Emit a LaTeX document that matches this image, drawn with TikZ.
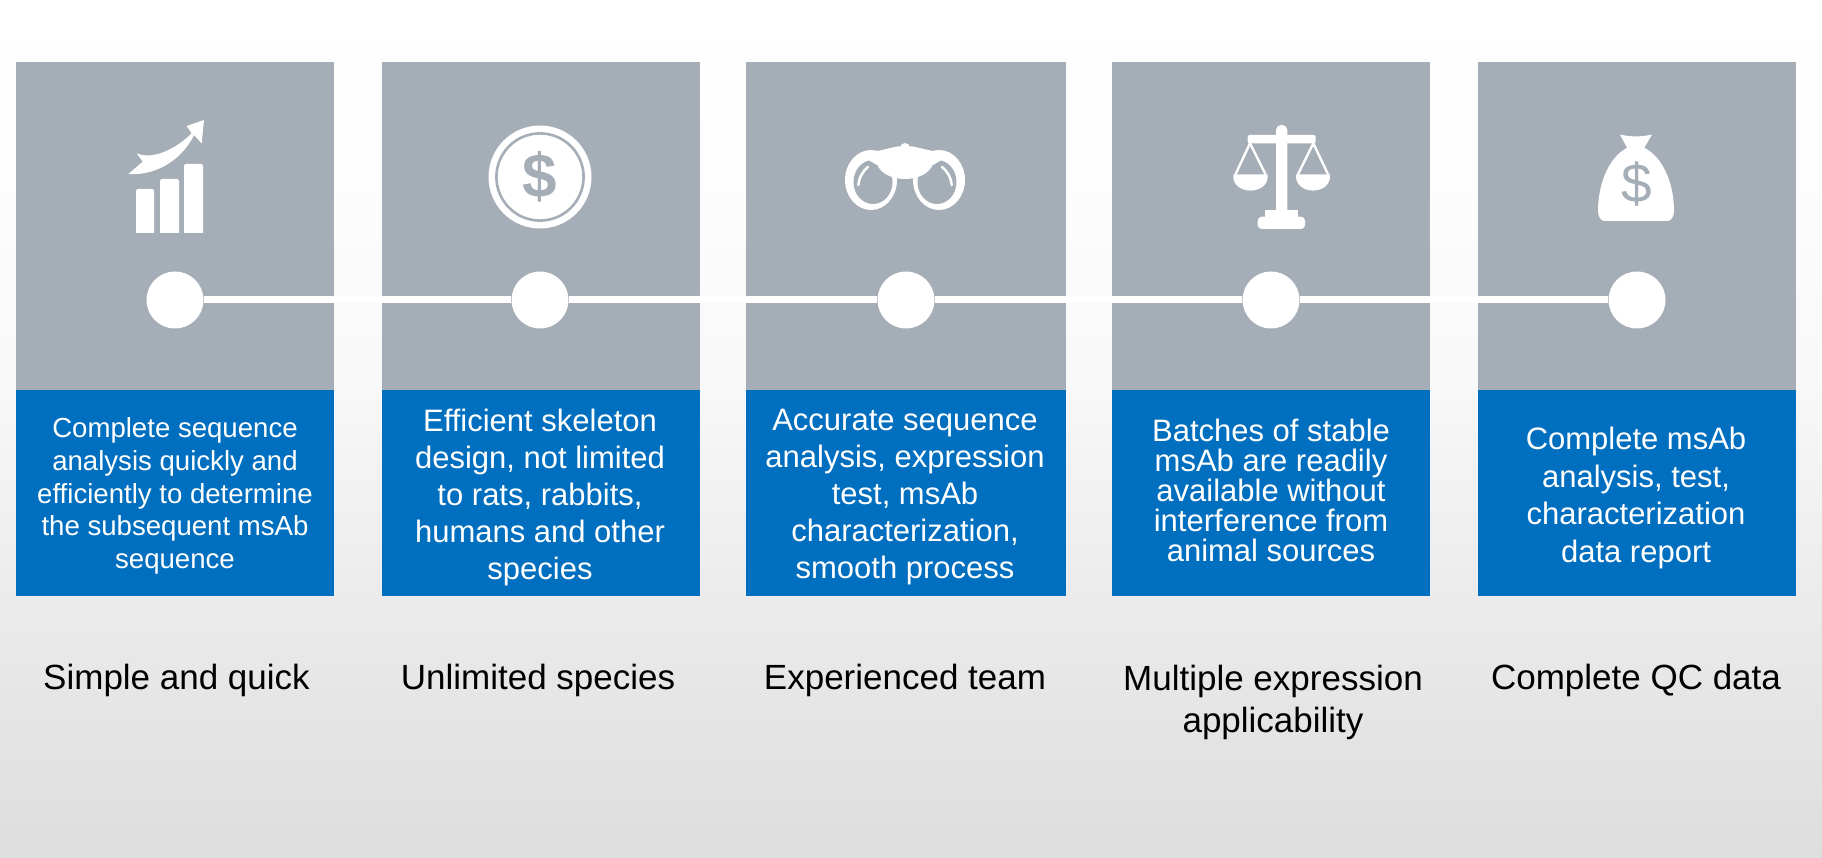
\documentclass[tikz,border=0pt]{standalone}
\usepackage{fontspec}
\setmainfont{Liberation Sans}
\usetikzlibrary{positioning}
\definecolor{cardgrey}{HTML}{A5ADB7}
\definecolor{cardblue}{HTML}{006FBF}
\pgfdeclareverticalshading{pagefade}{100bp}{color(0bp)=(black!13); color(25bp)=(black!13); color(31.3bp)=(black!11); color(39.5bp)=(black!8); color(52.9bp)=(black!2.5); color(63.3bp)=(black!1); color(75bp)=(white); color(100bp)=(white)}
\tikzset{
  greycard/.style={fill=cardgrey,inner sep=0pt,minimum width=318pt,minimum height=328pt},
  bluecard/.style={fill=cardblue,inner sep=0pt,minimum width=318pt,minimum height=206pt},
  dot/.style={circle,fill=white,inner sep=0pt,minimum size=57pt},
  desc/.style={text=white,align=center,inner sep=0pt},
  caption/.style={text=black,align=center,inner sep=0pt,font=\fontsize{35}{42}\selectfont},
  icon/.style={fill=white,draw=none},
}
\begin{document}
\begin{tikzpicture}[x=1pt,y=-1pt]
  \shade[shading=pagefade] (0,0) rectangle (1822,858);

  \node[greycard] (top1) at (175,226) {};
  \node[greycard] (top2) at (541,226) {};
  \node[greycard,minimum width=320pt] (top3) at (906,226) {};
  \node[greycard] (top4) at (1271,226) {};
  \node[greycard] (top5) at (1637,226) {};

  \node[bluecard] (low1) at (175,493) {};
  \node[bluecard] (low2) at (541,493) {};
  \node[bluecard,minimum width=320pt] (low3) at (906,493) {};
  \node[bluecard] (low4) at (1271,493) {};
  \node[bluecard] (low5) at (1637,493) {};

  \node[dot] (dot1) at (175,300) {};
  \node[dot] (dot2) at (540,300) {};
  \node[dot] (dot3) at (906,300) {};
  \node[dot] (dot4) at (1271,300) {};
  \node[dot] (dot5) at (1637,300) {};
  \draw[white,line width=7pt] (dot1) -- (dot2) -- (dot3) -- (dot4) -- (dot5);

  % descriptions
  \node[desc,font=\fontsize{27.6}{32.6}\selectfont] (text1) at (175,496) {Complete sequence\\analysis quickly and\\efficiently to determine\\the subsequent msAb\\sequence};
  \node[desc,font=\fontsize{31}{37}\selectfont] (text2) at (540,497) {Efficient skeleton\\design, not limited\\to rats, rabbits,\\humans and other\\species};
  \node[desc,font=\fontsize{31}{37}\selectfont] (text3) at (905,497.5) {Accurate sequence\\analysis, expression\\test, msAb\\characterization,\\smooth process};
  \node[desc,font=\fontsize{31}{29.8}\selectfont] (text4) at (1271,490.5) {Batches of stable\\msAb are readily\\available without\\interference from\\animal sources};
  \node[desc,font=\fontsize{31}{37.5}\selectfont] (text5) at (1636,498) {Complete msAb\\analysis, test,\\characterization\\data report};

  % captions
  \node[caption] (cap1) at (176.5,680.5) {Simple and quick};
  \node[caption] (cap2) at (538,680.5) {Unlimited species};
  \node[caption] (cap3) at (905,680.5) {Experienced team};
  \node[caption] (cap4) at (1273,702.5) {Multiple expression\\applicability};
  \node[caption] (cap5) at (1636,680.5) {Complete QC data};

  % chart icon
  \fill[icon] (136,233) [rounded corners=2pt] -- (136,189) -- (154,189) [sharp corners] -- (154,233) -- cycle;
  \fill[icon] (160,233) [rounded corners=2pt] -- (160,179) -- (179,179) [sharp corners] -- (179,233) -- cycle;
  \fill[icon] (184,233) [rounded corners=2pt] -- (184,164) -- (203,164) [sharp corners] -- (203,233) -- cycle;
  \fill[icon] (128.3,174) -- (142.7,161.7) -- (136.7,153.3) .. controls (152,160) and (175,150) .. (191.7,133.3)
    -- (186.7,126) -- (204,120) -- (201.7,143.3) -- (194,135) .. controls (183,158) and (158,176) .. cycle;

  % coin icon
  \fill[icon] (540,177) circle (51.5);
  \draw[cardgrey,line width=2.6pt] (540,177) circle (43.6);
  \node[inner sep=0pt,text=cardgrey,font=\fontsize{62}{62}\bfseries\selectfont] (coin) at (540,177) {\$};

  % binocular icon
  \fill[icon] (871,180) ellipse (26 and 30);
  \fill[icon] (939,180) ellipse (26 and 30);
  \fill[cardgrey] (873,182) ellipse (19.5 and 22);
  \fill[cardgrey] (937,182) ellipse (19.5 and 22);
  \fill[icon] (860,155) -- (897,146.5) -- (913,146.5) -- (950,155) -- (933,165) -- (877,165) -- cycle;
  \fill[icon] (876,158) .. controls (876,186) and (934,186) .. (934,158) -- cycle;
  \fill[icon] (905,148) circle (5);
  \draw[white,line width=2.5pt,line cap=round] (868,167) .. controls (862,172) and (859,178) .. (858.3,185);
  \draw[white,line width=2.5pt,line cap=round] (942,167) .. controls (948,172) and (951,178) .. (951.7,185);

  % scales icon
  \fill[icon,rounded corners=5pt] (1276,214) -- (1276,125) -- (1287.3,125) -- (1287.3,214) -- cycle;
  \fill[icon,rounded corners=2pt] (1247.7,135) rectangle (1315.7,143.3);
  \fill[icon] (1265,210) rectangle (1297.7,220);
  \fill[icon,rounded corners=4pt] (1257.7,216.7) rectangle (1305,229);
  \draw[white,line width=2.4pt] (1235.5,174.3) -- (1250,143.3) -- (1265.5,174.3);
  \draw[white,line width=2.4pt] (1298,174.3) -- (1313.3,143.3) -- (1328,174.3);
  \fill[icon] (1233.3,174.3) .. controls (1231,196) and (1270,196) .. (1267.7,174.3) -- cycle;
  \fill[icon] (1296,174.3) .. controls (1294,196) and (1332,196) .. (1330,174.3) -- cycle;

  % bag icon
  \fill[icon] (1620,134.5) .. controls (1630,137) and (1642,137) .. (1652,134.5) -- (1644.3,147.7)
    .. controls (1664,158) and (1674,185) .. (1674,211) .. controls (1674,217) and (1671,221) .. (1667,221)
    -- (1605,221) .. controls (1601,221) and (1598,217) .. (1598,211)
    .. controls (1598,185) and (1608,158) .. (1627,147.7) -- cycle;
  \node[inner sep=0pt,text=cardgrey,font=\fontsize{55}{55}\selectfont] (bag) at (1636.5,184.5) {\$};
\end{tikzpicture}
\end{document}
